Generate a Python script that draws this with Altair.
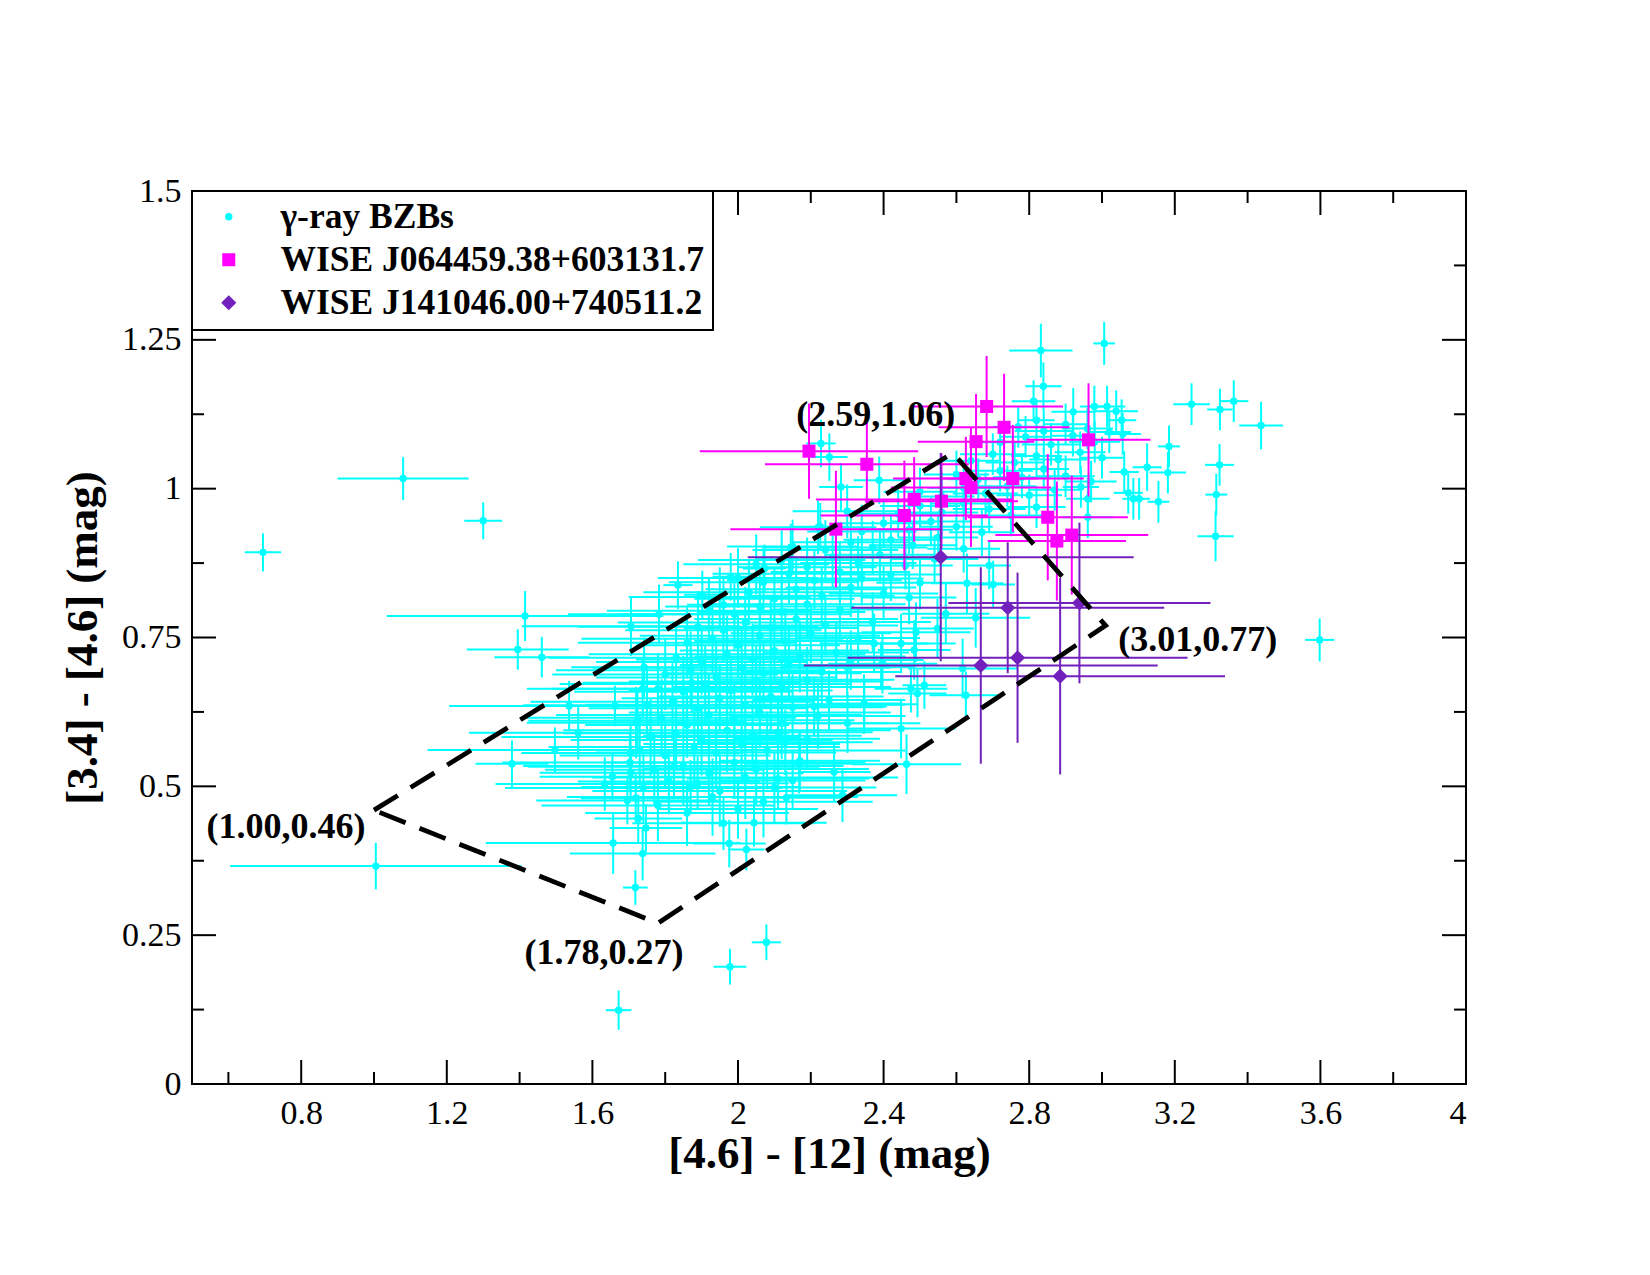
import altair as alt
import pandas as pd

# ---------------------------------------------------------------- axes
X_DOMAIN = [0.5, 4.0]
Y_DOMAIN = [0.0, 1.5]
x_major = [0.8, 1.2, 1.6, 2.0, 2.4, 2.8, 3.2, 3.6, 4.0]
x_minor = [0.6, 1.0, 1.4, 1.8, 2.2, 2.6, 3.0, 3.4, 3.8]
y_major = [0.0, 0.25, 0.5, 0.75, 1.0, 1.25, 1.5]
y_minor = [0.125, 0.375, 0.625, 0.875, 1.125, 1.375]
X_TITLE = "[4.6] - [12] (mag)"
Y_TITLE = "[3.4] - [4.6] (mag)"

series_names = ["γ-ray BZBs", "WISE J064459.38+603131.7", "WISE J141046.00+740511.2"]
series_colors = ["#00FFFF", "#FF00FF", "#7221BC"]
series_shapes = ["circle", "square", "diamond"]
series_sizes = [55, 170, 230]

# ---------------------------------------------------------------- gamma-ray BZBs
# isolated / outlying sources
sparse_x = [0.695, 1.080, 1.300, 1.005, 1.672, 1.978, 2.078, 1.718, 3.598, 3.006,
            2.832, 3.437, 3.246, 3.324, 3.362, 3.323, 3.314, 3.312, 3.184, 3.181,
            3.124, 3.155, 3.072, 3.086, 3.102, 3.061, 2.979, 3.014, 3.039, 3.054,
            3.057, 2.961, 2.839, 2.812, 2.820, 2.921, 2.942, 2.961, 1.415, 1.395,
            1.461, 1.536, 1.561, 1.497, 1.379, 1.662, 1.657, 1.738, 1.726, 1.747,
            1.696, 1.719, 1.634, 1.655, 1.705, 1.703, 1.705, 1.724, 1.706, 1.783,
            1.835, 1.902, 1.960, 1.742, 1.738, 1.873, 1.824, 1.870, 1.889, 1.960,
            1.976, 2.023, 2.044, 2.133, 2.110, 2.150, 2.168, 2.264, 2.287, 2.301,
            2.346, 2.448, 2.463, 2.475, 2.493, 2.512, 2.626, 2.653, 2.629, 2.701,
            2.690, 2.489, 2.571, 2.617, 2.397, 2.374, 2.448, 2.484, 2.310, 2.209,
            2.548, 2.393, 2.347]
sparse_y = [0.893, 1.017, 0.946, 0.366, 0.124, 0.197, 0.238, 0.330, 0.746, 1.244,
            1.232, 1.106, 1.142, 1.133, 1.147, 1.040, 0.990, 0.920, 1.071, 1.027,
            1.036, 0.978, 0.993, 0.983, 0.983, 1.028, 1.138, 1.138, 1.130, 1.115,
            1.092, 0.952, 1.172, 1.147, 1.115, 1.129, 1.003, 0.983, 0.786, 0.730,
            0.717, 0.635, 0.590, 0.561, 0.538, 0.635, 0.405, 0.387, 0.446, 0.430,
            0.476, 0.480, 0.504, 0.516, 0.556, 0.540, 0.523, 0.610, 0.769, 0.789,
            0.838, 0.822, 0.805, 0.700, 0.664, 0.674, 0.533, 0.499, 0.505, 0.438,
            0.404, 0.394, 0.439, 0.481, 0.513, 0.510, 0.538, 0.524, 0.485, 0.606,
            0.638, 0.597, 0.537, 0.664, 0.656, 0.670, 0.653, 0.783, 0.841, 0.839,
            0.871, 0.759, 0.790, 0.698, 0.706, 0.740, 0.740, 0.729, 0.712, 0.634,
            0.765, 0.703, 0.639]
sparse_xerr = [0.050, 0.180, 0.052, 0.400, 0.035, 0.045, 0.040, 0.034, 0.040, 0.030,
               0.087, 0.060, 0.050, 0.035, 0.040, 0.040, 0.030, 0.050, 0.030, 0.050,
               0.040, 0.030, 0.040, 0.030, 0.030, 0.040, 0.040, 0.050, 0.060, 0.040,
               0.050, 0.070, 0.050, 0.060, 0.050, 0.060, 0.050, 0.060, 0.380, 0.140,
               0.130, 0.330, 0.300, 0.350, 0.100, 0.250, 0.350, 0.200, 0.120, 0.100,
               0.250, 0.150, 0.300, 0.200, 0.300, 0.350, 0.250, 0.300, 0.300, 0.250,
               0.040, 0.050, 0.100, 0.200, 0.250, 0.300, 0.400, 0.300, 0.250, 0.250,
               0.100, 0.050, 0.200, 0.150, 0.250, 0.200, 0.150, 0.100, 0.150, 0.200,
               0.150, 0.150, 0.150, 0.100, 0.080, 0.060, 0.100, 0.150, 0.100, 0.060,
               0.060, 0.150, 0.120, 0.150, 0.150, 0.150, 0.150, 0.100, 0.200, 0.200,
               0.100, 0.100, 0.100]
sparse_yerr = [0.032, 0.036, 0.031, 0.039, 0.033, 0.030, 0.030, 0.029, 0.036, 0.036,
               0.045, 0.040, 0.035, 0.035, 0.035, 0.035, 0.035, 0.042, 0.035, 0.035,
               0.040, 0.035, 0.035, 0.035, 0.035, 0.035, 0.035, 0.035, 0.035, 0.035,
               0.035, 0.035, 0.040, 0.035, 0.035, 0.040, 0.035, 0.035, 0.042, 0.034,
               0.034, 0.042, 0.045, 0.038, 0.039, 0.034, 0.052, 0.045, 0.040, 0.040,
               0.040, 0.040, 0.045, 0.040, 0.050, 0.050, 0.045, 0.050, 0.050, 0.050,
               0.040, 0.040, 0.045, 0.050, 0.050, 0.050, 0.050, 0.045, 0.045, 0.045,
               0.040, 0.035, 0.040, 0.045, 0.050, 0.050, 0.050, 0.050, 0.045, 0.050,
               0.050, 0.050, 0.050, 0.040, 0.040, 0.040, 0.040, 0.050, 0.050, 0.040,
               0.040, 0.050, 0.050, 0.050, 0.050, 0.050, 0.050, 0.050, 0.050, 0.050,
               0.050, 0.040, 0.040]

# the crowded diagonal band of sources
core_x = [1.78, 1.86, 1.93, 2.00, 2.07,
          1.74, 1.81, 1.95, 2.02, 2.10,
          1.77, 1.85, 1.92, 1.99, 2.05, 2.17,
          1.73, 1.80, 1.88, 1.94, 2.01, 2.08, 2.13,
          1.76, 1.83, 1.90, 1.97, 2.04, 2.11, 2.19,
          1.72, 1.79, 1.86, 1.92, 1.99, 2.06, 2.12, 2.22,
          1.75, 1.82, 1.89, 1.95, 2.02, 2.09, 2.15, 2.25,
          1.78, 1.85, 1.91, 1.98, 2.05, 2.12, 2.19,
          1.80, 1.87, 1.94, 2.01, 2.07, 2.14, 2.23, 2.30,
          1.83, 1.90, 1.97, 2.04, 2.10, 2.17, 2.27,
          1.86, 1.93, 2.00, 2.06, 2.13, 2.20, 2.33,
          1.89, 1.96, 2.02, 2.09, 2.16, 2.24, 2.37,
          1.92, 1.99, 2.06, 2.12, 2.19, 2.28,
          1.95, 2.03, 2.10, 2.16, 2.23, 2.31, 2.40, 2.47,
          2.00, 2.07, 2.14, 2.21, 2.28, 2.34, 2.42, 2.50,
          2.05, 2.12, 2.19, 2.26, 2.33, 2.39, 2.46, 2.54,
          2.15, 2.24, 2.31, 2.37, 2.42, 2.48, 2.55, 2.62,
          2.22, 2.34, 2.40, 2.47, 2.53, 2.60, 2.67,
          2.30, 2.44, 2.50, 2.56, 2.62, 2.69, 2.75, 2.82,
          2.50, 2.56, 2.62, 2.68, 2.74, 2.80, 2.87,
          2.60, 2.66, 2.72, 2.78, 2.84, 2.90, 2.97,
          2.64, 2.70, 2.76, 2.82, 2.88, 2.94, 3.00,
          2.72, 2.79, 2.86, 2.92, 2.98,
          2.77, 2.84, 2.90, 2.96, 3.02,
          1.98, 2.073, 2.145, 2.226, 2.228, 2.251, 2.283, 2.388]
core_y = [0.468, 0.455, 0.482, 0.462, 0.474,
          0.497, 0.508, 0.492, 0.515, 0.498,
          0.528, 0.534, 0.522, 0.540, 0.529, 0.543,
          0.561, 0.552, 0.566, 0.557, 0.571, 0.560, 0.574,
          0.583, 0.589, 0.578, 0.594, 0.585, 0.591, 0.580,
          0.607, 0.615, 0.603, 0.620, 0.611, 0.624, 0.606, 0.618,
          0.636, 0.642, 0.631, 0.648, 0.637, 0.651, 0.633, 0.645,
          0.664, 0.659, 0.672, 0.661, 0.676, 0.667, 0.679,
          0.688, 0.695, 0.683, 0.699, 0.690, 0.704, 0.692, 0.700,
          0.716, 0.709, 0.722, 0.713, 0.728, 0.718, 0.725,
          0.741, 0.748, 0.737, 0.753, 0.744, 0.757, 0.749,
          0.768, 0.762, 0.775, 0.766, 0.781, 0.770, 0.776,
          0.795, 0.789, 0.802, 0.793, 0.806, 0.797,
          0.818, 0.826, 0.815, 0.831, 0.820, 0.834, 0.824, 0.817,
          0.850, 0.843, 0.857, 0.846, 0.860, 0.849, 0.856, 0.842,
          0.873, 0.880, 0.868, 0.884, 0.875, 0.889, 0.871, 0.882,
          0.903, 0.897, 0.910, 0.901, 0.914, 0.905, 0.918, 0.899,
          0.935, 0.928, 0.942, 0.931, 0.945, 0.936, 0.927,
          0.962, 0.958, 0.971, 0.960, 0.975, 0.966, 0.955, 0.969,
          0.995, 0.987, 1.001, 0.992, 1.004, 0.989, 0.998,
          1.024, 1.016, 1.030, 1.019, 1.033, 1.021, 1.012,
          1.047, 1.058, 1.044, 1.055, 1.049, 1.061, 1.052,
          1.078, 1.087, 1.074, 1.089, 1.079,
          1.104, 1.097, 1.108, 1.101, 1.095,
          0.852, 0.866, 0.901, 0.936, 1.076, 1.053, 1.003, 1.014]
core_xerr = [0.32, 0.28, 0.40, 0.22, 0.30,
             0.38, 0.25, 0.35, 0.42, 0.28,
             0.30, 0.44, 0.26, 0.36, 0.31, 0.22,
             0.35, 0.29, 0.40, 0.33, 0.27, 0.38, 0.24,
             0.41, 0.31, 0.36, 0.45, 0.30, 0.26, 0.20,
             0.30, 0.37, 0.28, 0.42, 0.33, 0.36, 0.29, 0.24,
             0.34, 0.39, 0.30, 0.27, 0.44, 0.31, 0.25, 0.21,
             0.36, 0.30, 0.40, 0.28, 0.35, 0.30, 0.24,
             0.31, 0.37, 0.33, 0.41, 0.27, 0.30, 0.22, 0.18,
             0.35, 0.29, 0.38, 0.32, 0.26, 0.29, 0.20,
             0.30, 0.36, 0.28, 0.33, 0.25, 0.22, 0.17,
             0.33, 0.27, 0.35, 0.24, 0.28, 0.20, 0.16,
             0.28, 0.32, 0.26, 0.23, 0.27, 0.19,
             0.25, 0.29, 0.22, 0.25, 0.20, 0.18, 0.15, 0.13,
             0.22, 0.26, 0.21, 0.24, 0.19, 0.17, 0.14, 0.12,
             0.20, 0.23, 0.19, 0.21, 0.16, 0.15, 0.13, 0.12,
             0.18, 0.20, 0.16, 0.15, 0.13, 0.12, 0.11, 0.10,
             0.16, 0.15, 0.13, 0.12, 0.11, 0.10, 0.09,
             0.15, 0.12, 0.11, 0.10, 0.09, 0.10, 0.09, 0.08,
             0.10, 0.09, 0.10, 0.09, 0.08, 0.09, 0.07,
             0.09, 0.08, 0.09, 0.08, 0.07, 0.08, 0.07,
             0.08, 0.09, 0.08, 0.07, 0.08, 0.07, 0.06,
             0.08, 0.07, 0.08, 0.06, 0.07,
             0.07, 0.08, 0.06, 0.07, 0.06,
             0.05, 0.06, 0.08, 0.08, 0.04, 0.05, 0.06, 0.07]
core_yerr = [0.060, 0.055, 0.065, 0.050, 0.060,
             0.060, 0.055, 0.060, 0.070, 0.060,
             0.060, 0.065, 0.055, 0.060, 0.060, 0.050,
             0.060, 0.055, 0.070, 0.060, 0.060, 0.065, 0.055,
             0.065, 0.060, 0.060, 0.070, 0.060, 0.055, 0.050,
             0.060, 0.065, 0.055, 0.070, 0.060, 0.060, 0.060, 0.055,
             0.060, 0.065, 0.060, 0.055, 0.070, 0.060, 0.055, 0.050,
             0.060, 0.060, 0.065, 0.055, 0.060, 0.060, 0.055,
             0.060, 0.065, 0.060, 0.065, 0.055, 0.060, 0.055, 0.050,
             0.060, 0.055, 0.065, 0.060, 0.055, 0.060, 0.050,
             0.060, 0.060, 0.055, 0.060, 0.055, 0.050, 0.050,
             0.060, 0.055, 0.060, 0.055, 0.055, 0.050, 0.050,
             0.055, 0.060, 0.055, 0.050, 0.055, 0.050,
             0.050, 0.055, 0.050, 0.055, 0.050, 0.050, 0.045, 0.045,
             0.050, 0.055, 0.050, 0.050, 0.050, 0.045, 0.045, 0.045,
             0.050, 0.050, 0.050, 0.050, 0.045, 0.045, 0.040, 0.040,
             0.045, 0.050, 0.045, 0.045, 0.040, 0.040, 0.040, 0.040,
             0.045, 0.045, 0.040, 0.040, 0.040, 0.040, 0.040,
             0.045, 0.040, 0.040, 0.040, 0.040, 0.040, 0.035, 0.035,
             0.040, 0.040, 0.040, 0.035, 0.035, 0.035, 0.035,
             0.040, 0.035, 0.035, 0.035, 0.035, 0.035, 0.035,
             0.035, 0.035, 0.035, 0.035, 0.035, 0.035, 0.035,
             0.035, 0.035, 0.035, 0.035, 0.035,
             0.035, 0.035, 0.035, 0.035, 0.035,
             0.040, 0.040, 0.040, 0.040, 0.040, 0.040, 0.040, 0.040]

# ---------------------------------------------------------------- WISE J064459.38+603131.7
j0644_x = [2.195, 2.354, 2.484, 2.457, 2.559, 2.269, 2.683, 2.731,
           2.654, 2.626, 2.640, 2.755, 2.963, 2.851, 2.917, 2.876]
j0644_y = [1.063, 1.041, 0.982, 0.955, 0.979, 0.932, 1.138, 1.103,
           1.079, 1.017, 1.002, 1.017, 1.082, 0.952, 0.922, 0.912]
j0644_xerr = [0.30, 0.28, 0.27, 0.23, 0.21, 0.29, 0.21, 0.18,
              0.16, 0.20, 0.22, 0.195, 0.17, 0.22, 0.21, 0.19]
j0644_yerr = [0.080, 0.076, 0.071, 0.092, 0.080, 0.098, 0.085, 0.090,
              0.080, 0.070, 0.100, 0.090, 0.095, 0.106, 0.100, 0.100]

# ---------------------------------------------------------------- WISE J141046.00+740511.2
j1410_x = [2.557, 2.741, 2.938, 2.768, 2.667, 2.885]
j1410_y = [0.885, 0.800, 0.808, 0.716, 0.703, 0.685]
j1410_xerr = [0.530, 0.430, 0.360, 0.467, 0.486, 0.453]
j1410_yerr = [0.175, 0.110, 0.135, 0.143, 0.165, 0.165]

# ---------------------------------------------------------------- selection region
poly_x = [1.00, 2.59, 3.01, 1.78, 1.00]
poly_y = [0.46, 1.06, 0.77, 0.27, 0.46]

W, H = 1274, 893
FONT = "Liberation Serif"


def frame(name, xs, ys, xes, yes):
    assert len(xs) == len(ys) == len(xes) == len(yes)
    return pd.DataFrame({
        "series": name,
        "x": xs, "y": ys,
        "x_lo": [a - b for a, b in zip(xs, xes)],
        "x_hi": [a + b for a, b in zip(xs, xes)],
        "y_lo": [a - b for a, b in zip(ys, yes)],
        "y_hi": [a + b for a, b in zip(ys, yes)],
    })


x_scale = alt.Scale(domain=X_DOMAIN, nice=False, zero=False)
y_scale = alt.Scale(domain=Y_DOMAIN, nice=False, zero=False)
x_axis = alt.Axis(values=x_major, format=".3~g", labelPadding=12, titlePadding=1)
y_axis = alt.Axis(values=y_major, format=".3~g", labelPadding=11, titlePadding=16)


def X(field):
    return alt.X(field, scale=x_scale, axis=x_axis, title=X_TITLE)


def Y(field):
    return alt.Y(field, scale=y_scale, axis=y_axis, title=Y_TITLE)


legend = alt.Legend(title=None, orient="none", legendX=0, legendY=0)
color_enc = alt.Color("series:N", scale=alt.Scale(domain=series_names, range=series_colors), legend=legend)
shape_enc = alt.Shape("series:N", scale=alt.Scale(domain=series_names, range=series_shapes), legend=legend)
size_enc = alt.Size("series:N", scale=alt.Scale(type="ordinal", domain=series_names, range=series_sizes),
                    legend=legend)


def series_layers(df, color):
    base = alt.Chart(df)
    hbar = base.mark_rule(color=color, strokeWidth=2).encode(x=X("x_lo:Q"), x2="x_hi:Q", y=Y("y:Q"))
    vbar = base.mark_rule(color=color, strokeWidth=2).encode(x=X("x:Q"), y=Y("y_lo:Q"), y2="y_hi:Q")
    pts = base.mark_point(filled=True, opacity=1, strokeWidth=0).encode(
        x=X("x:Q"), y=Y("y:Q"), color=color_enc, shape=shape_enc, size=size_enc)
    return [hbar, vbar, pts]


bzb = frame(series_names[0], sparse_x + core_x, sparse_y + core_y,
            sparse_xerr + core_xerr, sparse_yerr + core_yerr)
j0644 = frame(series_names[1], j0644_x, j0644_y, j0644_xerr, j0644_yerr)
j1410 = frame(series_names[2], j1410_x, j1410_y, j1410_xerr, j1410_yerr)

layers = []
layers += series_layers(bzb, series_colors[0])
layers += series_layers(j0644, series_colors[1])
layers += series_layers(j1410, series_colors[2])

# dashed selection polygon
poly = pd.DataFrame({"x": poly_x, "y": poly_y, "order": list(range(len(poly_x)))})
layers.append(
    alt.Chart(poly).mark_line(color="black", strokeWidth=4.8, strokeDash=[28, 15], strokeCap="butt")
    .encode(x=X("x:Q"), y=Y("y:Q"), order="order:Q")
)

# vertex labels, offset from each corner
label_offsets = [(-88, 17), (-77, -38), (92, 14), (-54, 30)]
for i, (dx, dy) in enumerate(label_offsets):
    vdf = pd.DataFrame({"x": [poly_x[i]], "y": [poly_y[i]],
                        "label": [f"({poly_x[i]:.2f},{poly_y[i]:.2f})"]})
    layers.append(
        alt.Chart(vdf).mark_text(font=FONT, fontWeight="bold", fontSize=36, color="black",
                                 align="center", baseline="middle", dx=dx, dy=dy)
        .encode(x=X("x:Q"), y=Y("y:Q"), text="label:N")
    )


# inward ticks on all four sides
def xticks(vals, length):
    d = pd.DataFrame({"v": vals})
    bottom = alt.Chart(d).mark_rule(color="black", strokeWidth=2).encode(
        x=X("v:Q"), y=alt.value(H), y2=alt.value(H - length))
    top = alt.Chart(d).mark_rule(color="black", strokeWidth=2).encode(
        x=X("v:Q"), y=alt.value(0), y2=alt.value(length))
    return [bottom, top]


def yticks(vals, length):
    d = pd.DataFrame({"v": vals})
    left = alt.Chart(d).mark_rule(color="black", strokeWidth=2).encode(
        y=Y("v:Q"), x=alt.value(0), x2=alt.value(length))
    right = alt.Chart(d).mark_rule(color="black", strokeWidth=2).encode(
        y=Y("v:Q"), x=alt.value(W), x2=alt.value(W - length))
    return [left, right]


layers += xticks(x_major, 24) + xticks(x_minor, 12)
layers += yticks(y_major[1:-1], 24) + yticks(y_minor, 12)

chart = (
    alt.layer(*layers)
    .properties(width=W, height=H, background="white",
                autosize=alt.AutoSizeParams(type="none"),
                padding={"left": 192, "top": 191, "right": 184, "bottom": 191})
    .configure_view(stroke="black", strokeWidth=2)
    .configure_axis(labelFont=FONT, labelFontSize=34, labelColor="black",
                    titleFont=FONT, titleFontSize=45, titleFontWeight="bold", titleColor="black",
                    grid=False, domain=False, ticks=False)
    .configure_legend(strokeColor="black", strokeWidth=2, fillColor="white", padding=8,
                      labelFont=FONT, labelFontWeight="bold", labelFontSize=35.5, labelColor="black",
                      labelLimit=0, symbolOffset=11, labelOffset=34, rowPadding=6,
                      symbolStrokeWidth=0)
)

chart.save("out.html", embed_options={"renderer": "svg", "actions": False})
